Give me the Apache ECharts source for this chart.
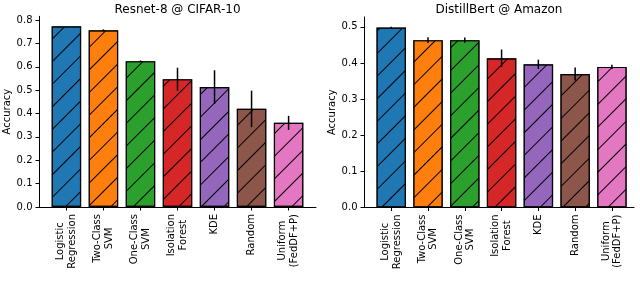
<!DOCTYPE html>
<html>
<head>
<meta charset="utf-8">
<script src="https://cdn.jsdelivr.net/npm/echarts@6/dist/echarts.min.js"></script>
<style>
html,body{margin:0;padding:0;background:#fff;}
#chart{width:640px;height:302px;}
</style>
</head>
<body>
<div id="chart"></div>
<script>
const categories = ["Logistic\nRegression", "Two-Class\nSVM", "One-Class\nSVM", "Isolation\nForest", "KDE", "Random", "Uniform\n(FedDF+P)"];
const colors = ["#1f77b4", "#ff7f0e", "#2ca02c", "#d62728", "#9467bd", "#8c564b", "#e377c2"];

const titleLeft = "Resnet-8 @ CIFAR-10";
const valuesLeft = [0.773, 0.756, 0.624, 0.547, 0.513, 0.420, 0.360];
const errorsLeft = [0.0, 0.004, 0.003, 0.049, 0.072, 0.078, 0.030];
const ticksLeft = [0, 0.1, 0.2, 0.3, 0.4, 0.5, 0.6, 0.7, 0.8];

const titleRight = "DistillBert @ Amazon";
const valuesRight = [0.498, 0.463, 0.463, 0.413, 0.396, 0.369, 0.389];
const errorsRight = [0.002, 0.008, 0.007, 0.024, 0.013, 0.018, 0.006];
const ticksRight = [0, 0.1, 0.2, 0.3, 0.4, 0.5];

const yLabel = "Accuracy";
const FONT = "DejaVu Sans";

const xPositions = categories.map((c, i) => i);

function labelFmt(v) {
  const name = categories[Math.round(v)];
  if (name === undefined) return '';
  return name.split('\n').map(s => '{a|' + s + '}').join('\n');
}

const decal = {
  symbol: 'rect',
  symbolSize: 1,
  color: '#000',
  backgroundColor: null,
  dashArrayX: [1, 0],
  dashArrayY: [1, 15],
  rotation: -Math.PI / 4
};

function xAxisCfg(gridIndex, max) {
  return {
    type: 'value', gridIndex: gridIndex, min: -0.74, max: max,
    splitLine: {show: false},
    axisLine: {show: true, onZero: false, lineStyle: {color: '#000', width: 1}},
    axisTick: {show: true, length: 3.5, lineStyle: {color: '#000', width: 1}, customValues: xPositions},
    axisLabel: {
      show: true, rotate: 90, margin: 7, customValues: xPositions,
      formatter: labelFmt,
      rich: {a: {align: 'center', fontFamily: FONT, fontSize: 10, lineHeight: 11.5, color: '#000'}}
    }
  };
}

function yAxisCfg(gridIndex, max, ticks, gap) {
  return {
    type: 'value', gridIndex: gridIndex, min: 0, max: max,
    name: yLabel, nameLocation: 'middle', nameGap: gap,
    nameTextStyle: {fontFamily: FONT, fontSize: 10, color: '#000'},
    splitLine: {show: false},
    axisLine: {show: true, onZero: false, lineStyle: {color: '#000', width: 1}},
    axisTick: {show: true, length: 3.5, lineStyle: {color: '#000', width: 1}, customValues: ticks},
    axisLabel: {
      show: true, margin: 6.5, customValues: ticks,
      formatter: v => v.toFixed(1),
      fontFamily: FONT, fontSize: 10, color: '#000'
    }
  };
}

function barSeries(idx, values) {
  return {
    type: 'bar', xAxisIndex: idx, yAxisIndex: idx,
    barWidth: 29.5,
    data: values.map((v, i) => ({
      value: [i, v],
      itemStyle: {color: colors[i], borderColor: 'rgba(0,0,0,0.85)', borderWidth: 1.2, decal: decal}
    })),
    animation: false
  };
}

function errSeries(idx, values, errors) {
  return {
    type: 'custom', xAxisIndex: idx, yAxisIndex: idx,
    encode: {x: 0, y: [1, 2]},
    data: values.map((v, i) => [i, v - errors[i], v + errors[i]]),
    renderItem: function (params, api) {
      const x = api.value(0), lo = api.value(1), hi = api.value(2);
      if (!(hi > lo)) return null;
      const p1 = api.coord([x, lo]);
      const p2 = api.coord([x, hi]);
      return {
        type: 'line',
        shape: {x1: p1[0], y1: p1[1], x2: p2[0], y2: p2[1]},
        style: {stroke: '#000', lineWidth: 1.5}
      };
    },
    z: 10,
    animation: false
  };
}

const chart = echarts.init(document.getElementById('chart'), null, {renderer: 'canvas'});
chart.setOption({
  animation: false,
  backgroundColor: '#fff',
  title: [
    {text: titleLeft, left: 177.5, top: 3.5, textAlign: 'center', textVerticalAlign: 'top', padding: 0,
     textStyle: {fontFamily: FONT, fontSize: 12, fontWeight: 'normal', color: '#000'}},
    {text: titleRight, left: 499, top: 3.5, textAlign: 'center', textVerticalAlign: 'top', padding: 0,
     textStyle: {fontFamily: FONT, fontSize: 12, fontWeight: 'normal', color: '#000'}}
  ],
  grid: [
    {left: 39, width: 277, top: 16.3, bottom: 95, containLabel: false},
    {left: 364, width: 270, top: 17, bottom: 94.5, containLabel: false}
  ],
  xAxis: [xAxisCfg(0, 6.74), xAxisCfg(1, 6.6)],
  yAxis: [yAxisCfg(0, 0.816, ticksLeft, 20), yAxisCfg(1, 0.527, ticksRight, 27)],
  series: [
    barSeries(0, valuesLeft), errSeries(0, valuesLeft, errorsLeft),
    barSeries(1, valuesRight), errSeries(1, valuesRight, errorsRight)
  ]
});
</script>
</body>
</html>
